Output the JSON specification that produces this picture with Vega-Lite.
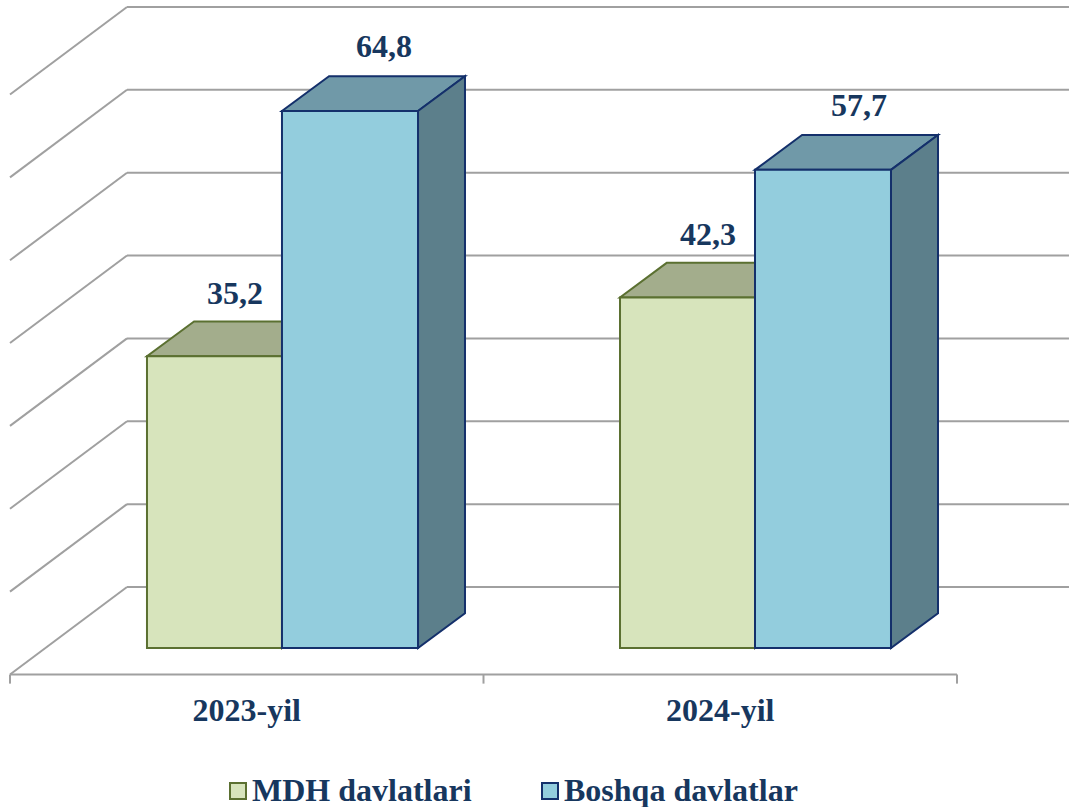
{"$schema":"https://vega.github.io/schema/vega-lite/v6.json","width":1069,"height":807,"padding":0,"autosize":{"type":"none"},"background":"white","config":{"view":{"stroke":null}},
"datasets":{"tops":[
{"bar":"a","series":"MDH davlatlari","xa":0.2893,"xb":0.5744,"y":35.2},{"bar":"a","series":"MDH davlatlari","xa":0.3886,"xb":0.6737,"y":39.4},
{"bar":"b","series":"Boshqa davlatlar","xa":0.5744,"xb":0.8617,"y":64.8},{"bar":"b","series":"Boshqa davlatlar","xa":0.6737,"xb":0.9609,"y":69},
{"bar":"c","series":"MDH davlatlari","xa":1.2883,"xb":1.5734,"y":42.3},{"bar":"c","series":"MDH davlatlari","xa":1.3875,"xb":1.6727,"y":46.5},
{"bar":"d","series":"Boshqa davlatlar","xa":1.5734,"xb":1.8606,"y":57.7},{"bar":"d","series":"Boshqa davlatlar","xa":1.6727,"xb":1.9599,"y":61.9}],
"sides":[
{"bar":"a","series":"MDH davlatlari","x":0.5744,"y":35.2,"y2":0},{"bar":"a","series":"MDH davlatlari","x":0.6737,"y":39.4,"y2":4.2},
{"bar":"b","series":"Boshqa davlatlar","x":0.8617,"y":64.8,"y2":0},{"bar":"b","series":"Boshqa davlatlar","x":0.9609,"y":69,"y2":4.2},
{"bar":"c","series":"MDH davlatlari","x":1.5734,"y":42.3,"y2":0},{"bar":"c","series":"MDH davlatlari","x":1.6727,"y":46.5,"y2":4.2},
{"bar":"d","series":"Boshqa davlatlar","x":1.8606,"y":57.7,"y2":0},{"bar":"d","series":"Boshqa davlatlar","x":1.9599,"y":61.9,"y2":4.2}]},
"layer":[
{"data":{"values":[
{"x":0,"x2":0.2471,"y":-3.2,"y2":7.36},{"x":0,"x2":0.2471,"y":6.8,"y2":17.36},{"x":0,"x2":0.2471,"y":16.8,"y2":27.36},{"x":0,"x2":0.2471,"y":26.8,"y2":37.36},{"x":0,"x2":0.2471,"y":36.8,"y2":47.36},{"x":0,"x2":0.2471,"y":46.8,"y2":57.36},{"x":0,"x2":0.2471,"y":56.8,"y2":67.36},{"x":0,"x2":0.2471,"y":66.8,"y2":77.36},
{"x":0.2471,"x2":2.2365,"y":7.36,"y2":7.36},{"x":0.2471,"x2":2.2365,"y":17.36,"y2":17.36},{"x":0.2471,"x2":2.2365,"y":27.36,"y2":27.36},{"x":0.2471,"x2":2.2365,"y":37.36,"y2":37.36},{"x":0.2471,"x2":2.2365,"y":47.36,"y2":47.36},{"x":0.2471,"x2":2.2365,"y":57.36,"y2":57.36},{"x":0.2471,"x2":2.2365,"y":67.36,"y2":67.36},{"x":0.2471,"x2":2.2365,"y":77.36,"y2":77.36},
{"x":0,"x2":2,"y":-3.2,"y2":-3.2},{"x":0,"x2":0,"y":-3.2,"y2":-4.3},{"x":1,"x2":1,"y":-3.2,"y2":-4.3},{"x":2,"x2":2,"y":-3.2,"y2":-4.3}]},
"mark":{"type":"rule","stroke":"#A0A0A0","strokeWidth":2},
"encoding":{"x":{"field":"x","type":"quantitative","scale":{"domain":[-0.02112,2.23654],"nice":false,"zero":false},"axis":null},"x2":{"field":"x2"},"y":{"field":"y","type":"quantitative","scale":{"domain":[-19.19,78.2],"nice":false,"zero":false},"axis":null},"y2":{"field":"y2"}}},
{"data":{"name":"tops"},"transform":[{"filter":"datum.series==='MDH davlatlari'"}],
"mark":{"type":"area","orient":"horizontal","strokeWidth":2,"fill":"#A3AD8C","stroke":"#5B7031"},
"encoding":{"detail":{"field":"bar","type":"nominal"},"x":{"field":"xa","type":"quantitative"},"x2":{"field":"xb"},"y":{"field":"y","type":"quantitative"}}},
{"data":{"name":"tops"},"transform":[{"filter":"datum.series==='Boshqa davlatlar'"}],
"mark":{"type":"area","orient":"horizontal","strokeWidth":2,"fill":"#7099A8","stroke":"#14306B"},
"encoding":{"detail":{"field":"bar","type":"nominal"},"x":{"field":"xa","type":"quantitative"},"x2":{"field":"xb"},"y":{"field":"y","type":"quantitative"}}},
{"data":{"name":"sides"},"transform":[{"filter":"datum.series==='MDH davlatlari'"}],
"mark":{"type":"area","orient":"vertical","strokeWidth":2,"fill":"#80905F","stroke":"#5B7031"},
"encoding":{"detail":{"field":"bar","type":"nominal"},"x":{"field":"x","type":"quantitative"},"y":{"field":"y","type":"quantitative"},"y2":{"field":"y2"}}},
{"data":{"name":"sides"},"transform":[{"filter":"datum.series==='Boshqa davlatlar'"}],
"mark":{"type":"area","orient":"vertical","strokeWidth":2,"fill":"#5C7F8B","stroke":"#14306B"},
"encoding":{"detail":{"field":"bar","type":"nominal"},"x":{"field":"x","type":"quantitative"},"y":{"field":"y","type":"quantitative"},"y2":{"field":"y2"}}},
{"data":{"values":[
{"year":"2023-yil","series":"MDH davlatlari","x":0.2893,"x2":0.5744,"value":35.2},
{"year":"2023-yil","series":"Boshqa davlatlar","x":0.5744,"x2":0.8617,"value":64.8},
{"year":"2024-yil","series":"MDH davlatlari","x":1.2883,"x2":1.5734,"value":42.3},
{"year":"2024-yil","series":"Boshqa davlatlar","x":1.5734,"x2":1.8606,"value":57.7}]},
"mark":{"type":"rect","strokeWidth":2},
"encoding":{"x":{"field":"x","type":"quantitative"},"x2":{"field":"x2"},"y":{"field":"value","type":"quantitative"},"y2":{"datum":0},
"fill":{"field":"series","type":"nominal","scale":{"domain":["MDH davlatlari","Boshqa davlatlar"],"range":["#D7E4BC","#93CDDD"]},
"legend":{"title":null,"orient":"none","legendX":222,"legendY":775,"direction":"horizontal","symbolType":"square","symbolSize":256,"symbolStrokeWidth":2,"labelFont":"Liberation Serif","labelFontWeight":"bold","labelFontSize":32,"labelColor":"#17375E","labelOffset":-2,"columnPadding":62,"labelLimit":400,"padding":0,"symbolOpacity":1}},
"stroke":{"field":"series","type":"nominal","scale":{"domain":["MDH davlatlari","Boshqa davlatlar"],"range":["#5B7031","#14306B"]},"legend":null}}},
{"data":{"values":[
{"label":"35,2","x":0.475,"y":42.75},{"label":"64,8","x":0.79,"y":72.5},{"label":"42,3","x":1.474,"y":49.8},{"label":"57,7","x":1.793,"y":65.4},
{"label":"2023-yil","x":0.5,"y":-7.6},{"label":"2024-yil","x":1.5,"y":-7.6}]},
"mark":{"type":"text","font":"Liberation Serif","fontWeight":"bold","fontSize":32,"color":"#17375E","align":"center","baseline":"middle"},
"encoding":{"x":{"field":"x","type":"quantitative"},"y":{"field":"y","type":"quantitative"},"text":{"field":"label"}}}
]}
